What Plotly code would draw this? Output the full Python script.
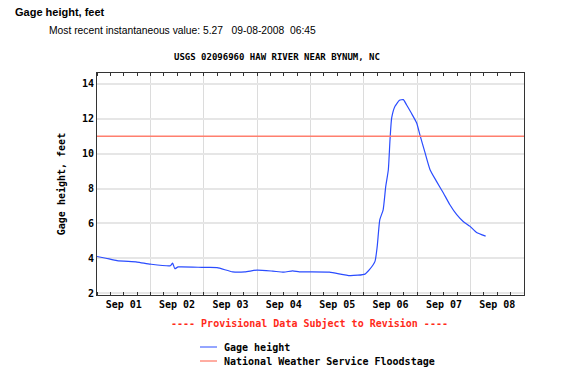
import plotly.graph_objects as go

times = [
    "2008-09-01 00:00", "2008-09-01 04:00", "2008-09-01 09:00", "2008-09-01 18:00",
    "2008-09-02 00:00", "2008-09-02 09:00", "2008-09-02 10:00", "2008-09-02 11:00",
    "2008-09-02 12:30", "2008-09-03 00:00", "2008-09-03 06:00", "2008-09-03 13:00",
    "2008-09-03 18:30", "2008-09-04 00:00", "2008-09-04 07:00", "2008-09-04 12:00",
    "2008-09-04 16:00", "2008-09-04 19:00", "2008-09-05 08:30", "2008-09-05 17:45",
    "2008-09-06 00:30", "2008-09-06 02:30", "2008-09-06 05:00", "2008-09-06 06:00",
    "2008-09-06 07:10", "2008-09-06 08:40", "2008-09-06 09:50", "2008-09-06 11:00",
    "2008-09-06 11:45", "2008-09-06 12:30", "2008-09-06 14:00", "2008-09-06 16:00",
    "2008-09-06 17:45", "2008-09-06 19:10", "2008-09-06 21:20", "2008-09-06 23:45",
    "2008-09-07 01:10", "2008-09-07 03:20", "2008-09-07 05:45", "2008-09-07 08:40",
    "2008-09-07 11:45", "2008-09-07 14:40", "2008-09-07 17:45", "2008-09-07 20:40",
    "2008-09-07 23:45", "2008-09-08 02:40", "2008-09-08 06:45",
]
gage_height = [
    4.10, 4.00, 3.86, 3.78,
    3.66, 3.57, 3.72, 3.40,
    3.50, 3.47, 3.46, 3.22,
    3.22, 3.32, 3.26, 3.20,
    3.28, 3.22, 3.20, 3.00,
    3.09, 3.34, 3.82, 4.68,
    6.21, 6.78, 8.12, 9.08,
    10.80, 12.05, 12.72, 13.06,
    13.10, 12.81, 12.33, 11.76,
    11.09, 10.13, 9.08, 8.41,
    7.74, 7.07, 6.50, 6.11,
    5.83, 5.48, 5.27,
]
floodstage = 11.0
x_range = ["2008-09-01 00:00", "2008-09-09 00:00"]
y_ticks = [2, 4, 6, 8, 10, 12, 14]
series_names = ["Gage height", "National Weather Service Floodstage"]
series_colors = ["#2a4cff", "#ff5a44"]

MONO = "DejaVu Sans Mono"
L, R, T, B = 97, 524, 73, 295
W, H = 584, 371

def px(x):
    return (x - L) / (R - L)

def py(y):
    return (B - y) / (B - T)

fig = go.Figure()
fig.add_trace(go.Scatter(
    x=times, y=gage_height, mode="lines", name=series_names[0],
    line=dict(color=series_colors[0], width=1.2, shape="spline", smoothing=0.5),
))
fig.add_trace(go.Scatter(
    x=x_range, y=[floodstage, floodstage], mode="lines",
    name=series_names[1],
    line=dict(color="#ff7f6e", width=1.6),
))

annotations = [
    dict(text="<b>Gage height, feet</b>", x=px(13), y=py(12), xref="paper", yref="paper",
         xanchor="left", yanchor="middle", showarrow=False,
         font=dict(family="Liberation Sans", size=11, color="black")),
    dict(text="Most recent instantaneous value: 5.27&nbsp;&nbsp; 09-08-2008 &nbsp;06:45",
         x=px(47), y=py(31), xref="paper", yref="paper",
         xanchor="left", yanchor="middle", showarrow=False,
         font=dict(family="Liberation Sans", size=10.3, color="black")),
    dict(text="USGS 02096960 HAW RIVER NEAR BYNUM, NC", x=px(277), y=py(57),
         xref="paper", yref="paper", xanchor="center", yanchor="middle", showarrow=False,
         font=dict(family=MONO, size=9, weight="bold", color="black")),
    dict(text="---- Provisional Data Subject to Revision ----", x=px(309), y=py(323),
         xref="paper", yref="paper", xanchor="center", yanchor="middle", showarrow=False,
         font=dict(family=MONO, size=10, weight="bold", color="#ff2a1a")),
]
shapes = []
for i, (nm, col) in enumerate(zip(series_names, series_colors)):
    yy = 347 + 14 * i
    shapes.append(dict(type="line", xref="paper", yref="paper",
                       x0=px(200), x1=px(217), y0=py(yy), y1=py(yy),
                       line=dict(color=col, width=1)))
    annotations.append(dict(text=nm, x=px(222), y=py(yy), xref="paper", yref="paper",
                            xanchor="left", yanchor="middle", showarrow=False,
                            font=dict(family=MONO, size=10, weight="bold", color="black")))

fig.update_layout(
    width=W, height=H,
    margin=dict(l=L, r=W - R, t=T, b=H - B, autoexpand=False),
    paper_bgcolor="white", plot_bgcolor="white",
    font=dict(family=MONO, size=10, color="black"),
    showlegend=False,
    xaxis=dict(
        type="date", range=x_range,
        dtick=86400000, tick0="2008-09-01", tickformat="%b %d",
        ticklabelmode="period",
        showgrid=True, gridcolor="#dcdcdc", gridwidth=1,
        ticks="inside", ticklen=3, tickcolor="#333",
        minor=dict(dtick=6 * 3600000, ticks="inside", ticklen=3, tickcolor="#333", showgrid=False),
        showline=True, linecolor="#333", linewidth=1, mirror="ticks",
        tickfont=dict(family=MONO, size=10, weight="bold"),
        zeroline=False,
    ),
    yaxis=dict(
        range=[1.89, 14.63], tickvals=y_ticks,
        showgrid=True, gridcolor="#e6e6e6", gridwidth=2,
        ticks="", showline=True, linecolor="#333", linewidth=1, mirror=True,
        tickfont=dict(family=MONO, size=10, weight="bold"),
        title=dict(text="Gage height, feet", font=dict(family=MONO, size=10, weight="bold"), standoff=14),
        zeroline=False,
    ),
    annotations=annotations,
    shapes=shapes,
)

fig.write_html("out.html", config={"displayModeBar": False},
               post_script="document.body.style.margin='0';document.body.style.padding='0';")
